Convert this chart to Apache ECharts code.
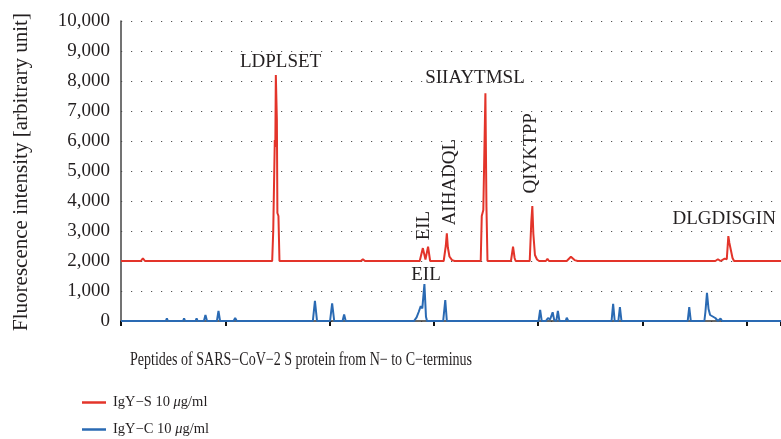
<!DOCTYPE html>
<html>
<head>
<meta charset="utf-8">
<script src="https://cdn.jsdelivr.net/npm/echarts@6/dist/echarts.min.js"></script>
<style>
html, body { margin: 0; padding: 0; background: #fff; }
#main { width: 781px; height: 439px; }
</style>
</head>
<body>
<div id="main"></div>
<script>
// series names
var seriesNames = ['IgY\u2212S 10 \u03bcg/ml', 'IgY\u2212C 10 \u03bcg/ml'];

// y axis ticks
var yTicks = [0, 1000, 2000, 3000, 4000, 5000, 6000, 7000, 8000, 9000, 10000];

// IgY-S (red), peptide index / intensity
var redX = [0, 38, 42, 46, 92, 94, 96, 155, 157, 159, 220, 222, 224, 290, 292, 295, 296, 297, 299, 300, 302, 304,
  460, 464, 468, 548, 550, 552, 573, 579, 584, 589, 593, 619, 623, 625, 627, 630, 635, 640,
  690, 692, 695, 699, 701, 703, 748, 752, 755, 757, 784, 787, 789, 791, 794, 798, 802,
  815, 818, 821, 855, 863, 870, 876, 1140, 1145, 1150, 1158, 1162, 1165, 1167, 1170, 1173, 1176, 1266];
var redY = [2000, 2000, 2090, 2000, 2000, 2030, 2000, 2000, 2030, 2000, 2000, 2030, 2000, 2000, 3000, 6030, 5800, 8200, 6700, 3600, 3500, 2000,
  2000, 2060, 2000, 2000, 2030, 2000, 2000, 2430, 2050, 2480, 2000, 2000, 2500, 2920, 2450, 2150, 2030, 2000,
  2000, 3500, 3700, 7590, 3800, 2000, 2000, 2480, 2100, 2000, 2000, 3300, 3830, 2900, 2200, 2050, 2000,
  2000, 2070, 2000, 2000, 2140, 2030, 2000, 2000, 2060, 2000, 2080, 2060, 2830, 2600, 2640, 2100, 2000, 2000];

// IgY-C (blue)
var blueX = [0, 58, 61, 64, 86, 88, 90, 119, 121, 123, 143, 145, 147, 159, 162, 165, 184, 187, 190, 216, 219, 222,
  286, 289, 292, 368, 372, 376, 401, 405, 409, 425, 428, 431, 468, 471, 474,
  562, 567, 571, 575, 578, 582, 585, 587, 618, 622, 625, 665, 668, 671,
  801, 804, 807, 815, 819, 823, 828, 831, 835, 838, 841, 853, 855, 858,
  941, 944, 947, 954, 957, 960, 1087, 1090, 1093, 1119, 1121, 1124, 1127, 1130, 1140, 1145, 1150, 1153, 1197, 1200, 1203, 1266];
var blueY = [0, 0, 30, 0, 0, 90, 0, 0, 90, 0, 0, 90, 0, 0, 200, 0, 0, 340, 0, 0, 100, 0,
  0, 40, 0, 0, 670, 0, 0, 590, 0, 0, 220, 0, 0, 30, 0,
  0, 120, 300, 500, 420, 1230, 140, 0, 0, 700, 0, 0, 30, 0,
  0, 370, 0, 0, 100, 50, 290, 30, 0, 340, 0, 0, 110, 0,
  0, 570, 0, 0, 460, 0, 0, 460, 0, 0, 300, 940, 400, 200, 100, 0, 80, 0, 0, 20, 0, 0];

// peptide annotations
var peakNames = ['LDPLSET', 'EIL', 'AIHADQL', 'SIIAYTMSL', 'QIYKTPP', 'DLGDISGIN', 'EIL'];
var peakX = [306, 581, 631, 679, 786, 1157, 585];
var peakY = [8630, 3180, 4630, 8100, 5590, 3400, 1530];
var peakRotate = [0, 90, 90, 0, 90, 0, 0];

function zip(xs, ys) {
  var out = [];
  for (var i = 0; i < xs.length; i++) out.push([xs[i], ys[i]]);
  return out;
}

var serif = "'Liberation Serif', 'DejaVu Serif', serif";
var textColor = '#231f20';

var marks = [];
for (var i = 0; i < peakNames.length; i++) {
  marks.push({
    coord: [peakX[i], peakY[i]],
    label: {
      show: true,
      position: 'inside',
      formatter: peakNames[i],
      rotate: peakRotate[i],
      color: textColor,
      fontFamily: serif,
      fontSize: 19
    }
  });
}

var myChart = echarts.init(document.getElementById('main'));
myChart.setOption({
  animation: false,
  backgroundColor: '#fff',
  grid: { left: 121, right: 0, top: 21, bottom: 118 },
  xAxis: {
    type: 'value',
    min: 0,
    max: 1266,
    interval: 200,
    axisLine: { show: true, lineStyle: { color: '#333', width: 1.5 } },
    axisTick: { show: true, length: 5, lineStyle: { color: '#111', width: 2 } },
    axisLabel: { show: false },
    splitLine: { show: false }
  },
  yAxis: {
    type: 'value',
    min: yTicks[0],
    max: yTicks[yTicks.length - 1],
    interval: 1000,
    axisLine: { show: true, lineStyle: { color: '#444', width: 1.5 } },
    axisTick: { show: false },
    axisLabel: {
      margin: 11,
      color: textColor,
      fontFamily: serif,
      fontSize: 19,
      formatter: function(v) { return v.toLocaleString('en-US'); }
    },
    splitLine: { show: true, lineStyle: { color: '#555', width: 1.2, type: [1.2, 8.8] } }
  },
  legend: {
    orient: 'vertical',
    left: 82,
    top: 395,
    height: 80,
    padding: 0,
    itemGap: 12,
    itemWidth: 24,
    itemHeight: 2.5,
    icon: 'rect',
    data: seriesNames,
    formatter: function(name) { return name.replace('\u03bc', '{i|\u03bc}'); },
    textStyle: {
      color: textColor,
      fontFamily: serif,
      fontSize: 14.5,
      padding: [0, 0, 0, 2],
      rich: { i: { fontStyle: 'italic', fontFamily: serif, fontSize: 14.5, color: textColor } }
    }
  },
  graphic: [
    {
      type: 'text',
      x: 21,
      y: 172,
      rotation: Math.PI / 2,
      style: {
        text: 'Fluorescence intensity [arbitrary unit]',
        fill: textColor,
        font: '21px ' + serif,
        align: 'center',
        verticalAlign: 'middle'
      }
    },
    {
      type: 'text',
      x: 301,
      y: 360,
      scaleX: 0.78,
      style: {
        text: 'Peptides of SARS\u2212CoV\u22122 S protein from N\u2212 to C\u2212terminus',
        fill: textColor,
        font: '18px ' + serif,
        align: 'center',
        verticalAlign: 'middle'
      }
    }
  ],
  series: [
    {
      name: seriesNames[1],
      type: 'line',
      data: zip(blueX, blueY),
      showSymbol: false,
      lineStyle: { color: '#2a6ab3', width: 2 },
      itemStyle: { color: '#2a6ab3' },
      z: 3
    },
    {
      name: seriesNames[0],
      type: 'line',
      data: zip(redX, redY),
      showSymbol: false,
      lineStyle: { color: '#e3342a', width: 2 },
      itemStyle: { color: '#e3342a' },
      z: 4,
      markPoint: {
        symbol: 'circle',
        symbolSize: 0,
        data: marks
      }
    }
  ]
});
</script>
</body>
</html>
